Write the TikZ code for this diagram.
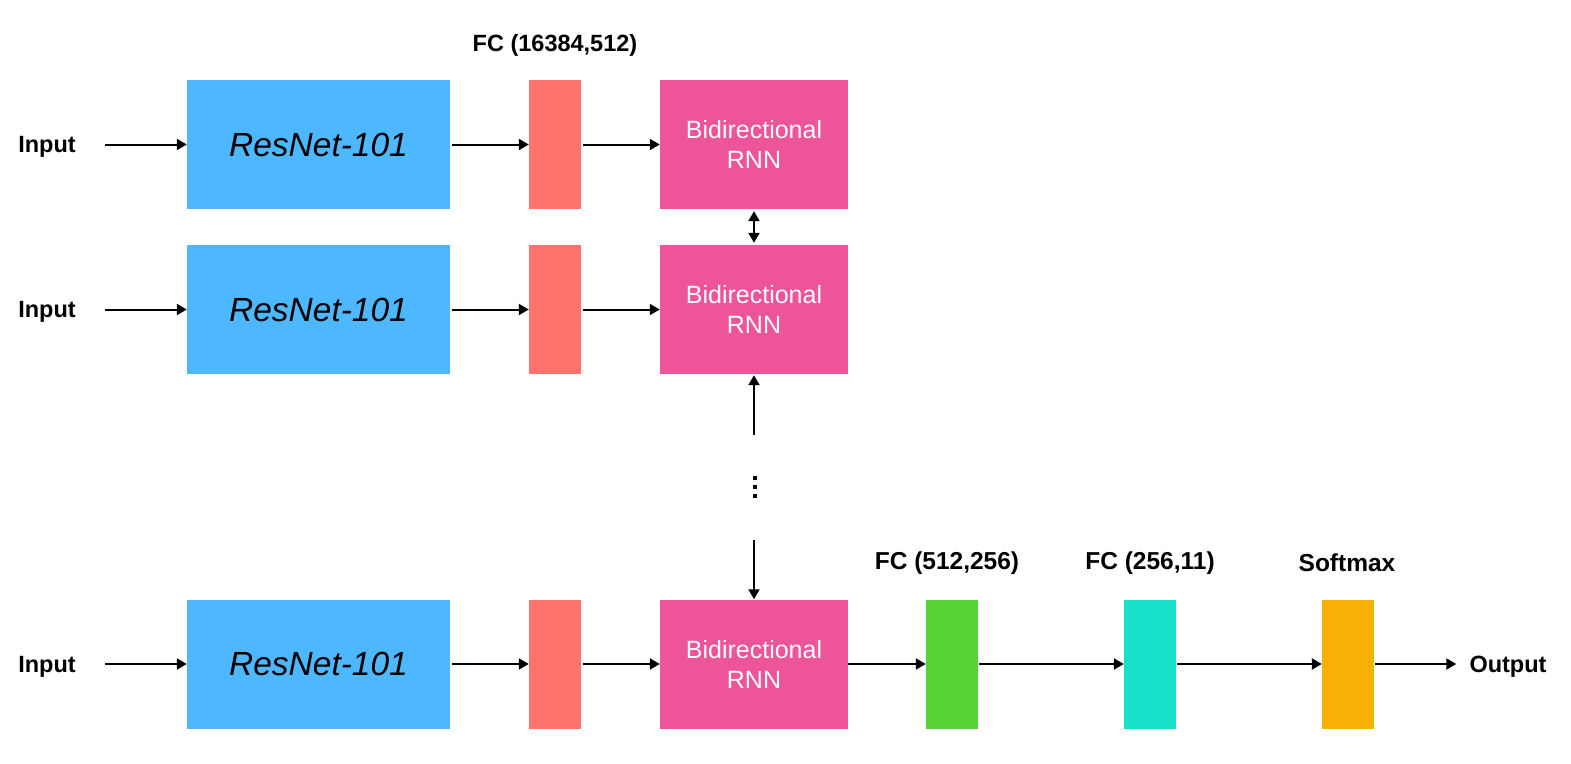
\documentclass[tikz,border=0pt]{standalone}
\usepackage{fontspec}
\setmainfont{Liberation Sans}
\usetikzlibrary{arrows.meta}
\definecolor{resblue}{HTML}{4DB8FF}
\definecolor{fcsalmon}{HTML}{FF736D}
\definecolor{rnnpink}{HTML}{EE5499}
\definecolor{fcgreen}{HTML}{57D434}
\definecolor{fccyan}{HTML}{19E0C9}
\definecolor{smorange}{HTML}{F7B006}
\begin{document}
\begin{tikzpicture}[x=1pt,y=-1pt,
  blk/.style={draw=none,inner sep=0pt,anchor=center},
  resbox/.style={blk,fill=resblue,minimum width=263pt,minimum height=129pt,
     font=\fontsize{33.5}{36}\selectfont\itshape},
  fcbox/.style={blk,minimum width=52pt,minimum height=129pt},
  rnnbox/.style={blk,fill=rnnpink,minimum width=188pt,minimum height=129pt,
     text=white,align=center,font=\fontsize{25}{30}\selectfont},
  lbl/.style={inner sep=0pt,font=\fontsize{23.5}{26}\selectfont\bfseries},
  blbl/.style={inner sep=0pt,font=\fontsize{24.5}{26}\selectfont\bfseries},
  dotsq/.style={fill=black,inner sep=0pt,minimum size=4.5pt},
  arr/.style={line width=2pt,-{Triangle[length=10pt,width=11pt]}},
  darr/.style={line width=2pt,{Triangle[length=10pt,width=11pt]}-{Triangle[length=10pt,width=11pt]}}
]
\useasboundingbox (0,0) rectangle (1571,763);
% row 1
\node[lbl] (in1) at (47,147) {Input};
\node[resbox] (res1) at (318.5,144.5) {ResNet-101};
\node[fcbox,fill=fcsalmon] (fc1) at (555,144.5) {};
\node[rnnbox] (rnn1) at (754,144.5) {Bidirectional\\RNN};
\node[lbl] (fclabel) at (555,45) {FC (16384,512)};
% row 2
\node[lbl] (in2) at (47,312) {Input};
\node[resbox] (res2) at (318.5,309.5) {ResNet-101};
\node[fcbox,fill=fcsalmon] (fc2) at (555,309.5) {};
\node[rnnbox] (rnn2) at (754,309.5) {Bidirectional\\RNN};
% row 3
\node[lbl] (in3) at (47,666.5) {Input};
\node[resbox] (res3) at (318.5,664) {ResNet-101};
\node[fcbox,fill=fcsalmon] (fc3) at (555,664) {};
\node[rnnbox] (rnn3) at (754,664) {Bidirectional\\RNN};
\node[fcbox,fill=fcgreen] (fcg) at (952,664) {};
\node[fcbox,fill=fccyan] (fcc) at (1150,664) {};
\node[fcbox,fill=smorange] (sm) at (1348,664) {};
\node[lbl] (out) at (1508,666.5) {Output};
\node[blbl] (lg) at (947,563) {FC (512,256)};
\node[blbl] (lc) at (1150,563) {FC (256,11)};
\node[blbl] (ls) at (1347,563) {Softmax};
% vertical dots
\node[dotsq] (d1) at (755,478) {};
\node[dotsq] (d2) at (755,487) {};
\node[dotsq] (d3) at (755,496) {};
\coordinate (upstart) at (754,435);
\coordinate (downstart) at (754,540);
% arrows
\foreach \i in {1,2,3}{
  \draw[arr,shorten <=29pt] (res\i.west -| in\i.east) -- (res\i.west);
  \draw[arr,shorten <=2pt] (res\i) -- (fc\i);
  \draw[arr,shorten <=2pt] (fc\i) -- (rnn\i);
}
\draw[darr,shorten <=2pt,shorten >=2pt] (rnn1) -- (rnn2);
\draw[arr,shorten >=1pt] (upstart) -- (rnn2);
\draw[arr] (downstart) -- (rnn3);
\draw[arr] (rnn3) -- (fcg);
\draw[arr,shorten <=1pt] (fcg) -- (fcc);
\draw[arr,shorten <=1pt] (fcc) -- (sm);
\draw[arr,shorten <=1pt,shorten >=13pt] (sm.east) -- (sm.east -| out.west);
\end{tikzpicture}
\end{document}
